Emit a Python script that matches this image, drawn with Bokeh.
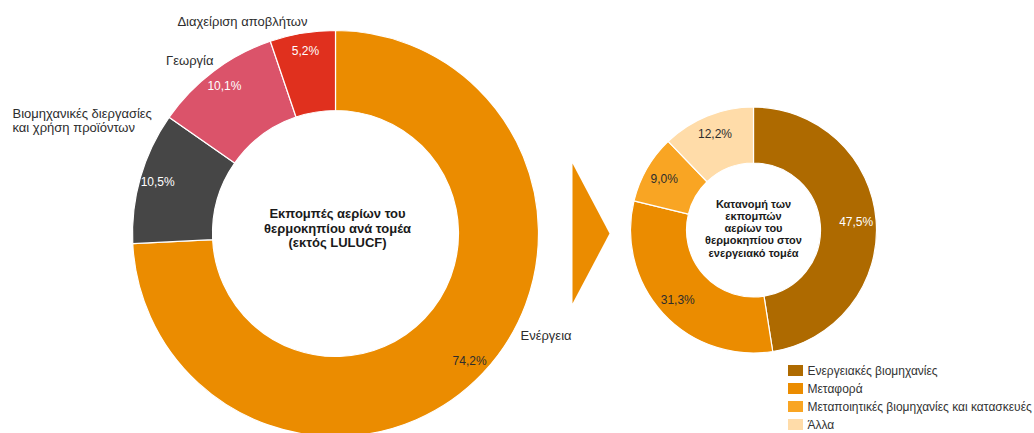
import numpy as np
from bokeh.plotting import figure
from bokeh.models import Range1d, ColumnDataSource
from bokeh.core.properties import value
from bokeh.embed import file_html
from bokeh.resources import INLINE

# ---- data ----
sectors = ["Ενέργεια", "Βιομηχανικές διεργασίες\nκαι χρήση προϊόντων", "Γεωργία", "Διαχείριση αποβλήτων"]
sector_shares = [74.2, 10.5, 10.1, 5.2]
sector_colors = ["#EB8C00", "#464646", "#DB536A", "#E0301E"]
sector_label_colors = ["#2d2d2d", "white", "white", "white"]

energy_parts = ["Ενεργειακές βιομηχανίες", "Μεταφορά", "Μεταποιητικές βιομηχανίες και κατασκευές", "Άλλα"]
energy_shares = [47.5, 31.3, 9.0, 12.2]
energy_colors = ["#AE6A00", "#EB8C00", "#F9A523", "#FFDCA9"]
energy_label_colors = ["white", "#2d2d2d", "#2d2d2d", "#2d2d2d"]

main_title = ["Εκπομπές αερίων του", "θερμοκηπίου ανά τομέα", "(εκτός LULUCF)"]
sub_title = ["Κατανομή των", "εκπομπών", "αερίων του", "θερμοκηπίου στον", "ενεργειακό τομέα"]

# ---- layout (screen px of the reference; data y = 433 - screen y) ----
W, H = 1034, 433
FONT = value("Liberation Sans")

def sy(y):
    return H - y

p = figure(width=W, height=H, x_range=Range1d(0, W), y_range=Range1d(0, H),
           output_backend="svg", toolbar_location=None, min_border=0,
           x_axis_type=None, y_axis_type=None)
p.grid.visible = False
p.outline_line_color = None
p.background_fill_color = "white"


def fmt(v):
    return f"{v:.1f}".replace(".", ",") + "%"


def donut(cx, cy, r_in, r_out, shares, colors, lab_r, lab_colors, font_size):
    shares = np.asarray(shares, dtype=float)
    frac = shares / shares.sum()
    c1 = np.cumsum(frac)
    c0 = c1 - frac
    start = np.pi / 2 - 2 * np.pi * c1
    end = np.pi / 2 - 2 * np.pi * c0
    src = ColumnDataSource(dict(start=start, end=end, color=colors))
    p.annular_wedge(x=cx, y=sy(cy), inner_radius=r_in, outer_radius=r_out,
                    start_angle="start", end_angle="end", direction="anticlock",
                    fill_color="color", line_color="white", line_width=1.2, source=src)
    mid = np.pi / 2 - 2 * np.pi * (c0 + c1) / 2
    lsrc = ColumnDataSource(dict(x=cx + lab_r * np.cos(mid), y=sy(cy) + lab_r * np.sin(mid),
                                 t=[fmt(v) for v in shares], c=lab_colors))
    p.text(x="x", y="y", text="t", text_color="c", source=lsrc, text_align="center",
           text_baseline="middle", text_font=FONT, text_font_size=font_size)


# main donut
donut(335, 233, 123, 203, sector_shares, sector_colors, 185, sector_label_colors, "12px")
# energy donut
donut(753, 229.5, 67, 123, energy_shares, energy_colors, 103, energy_label_colors, "12px")

# external category labels of main donut (anchor x, first-line y, align)
ext_pos = [(520, 335, "left"), (12, 113, "left"), (213, 60, "right"), (307, 21, "right")]
ex, ey, et, ea = [], [], [], []
for name, (x0, y0, al) in zip(sectors, ext_pos):
    for k, line in enumerate(name.split("\n")):
        ex.append(x0); ey.append(sy(y0 + 14 * k)); et.append(line); ea.append(al)
p.text(x="x", y="y", text="t", text_align="a",
       source=ColumnDataSource(dict(x=ex, y=ey, t=et, a=ea)),
       text_baseline="middle", text_font=FONT, text_font_size="13px", text_color="#2d2d2d")

# centre titles
p.text(x=[337] * len(main_title), y=[sy(213 + 14.5 * k) for k in range(len(main_title))],
       text=main_title, text_align="center", text_baseline="middle", text_font=FONT,
       text_font_size="13px", text_font_style="bold", text_color="#1a1a1a")
p.text(x=[753] * len(sub_title), y=[sy(203 + 12.3 * k) for k in range(len(sub_title))],
       text=sub_title, text_align="center", text_baseline="middle", text_font=FONT,
       text_font_size="11px", text_font_style="bold", text_color="#1a1a1a")

# arrow
p.patch(x=[572, 572, 609], y=[sy(163), sy(303), sy(233)], fill_color="#EB8C00", line_color=None)

# legend
ly = [370 + 18 * i for i in range(len(energy_parts))]
p.rect(x=[795] * len(energy_parts), y=[sy(v) for v in ly], width=15, height=11,
       fill_color=energy_colors, line_color=None)
p.text(x=[807] * len(energy_parts), y=[sy(v) for v in ly], text=energy_parts,
       text_align="left", text_baseline="middle", text_font=FONT, text_font_size="12px",
       text_color="#333333")

open("out.html", "w").write(file_html(p, INLINE))
